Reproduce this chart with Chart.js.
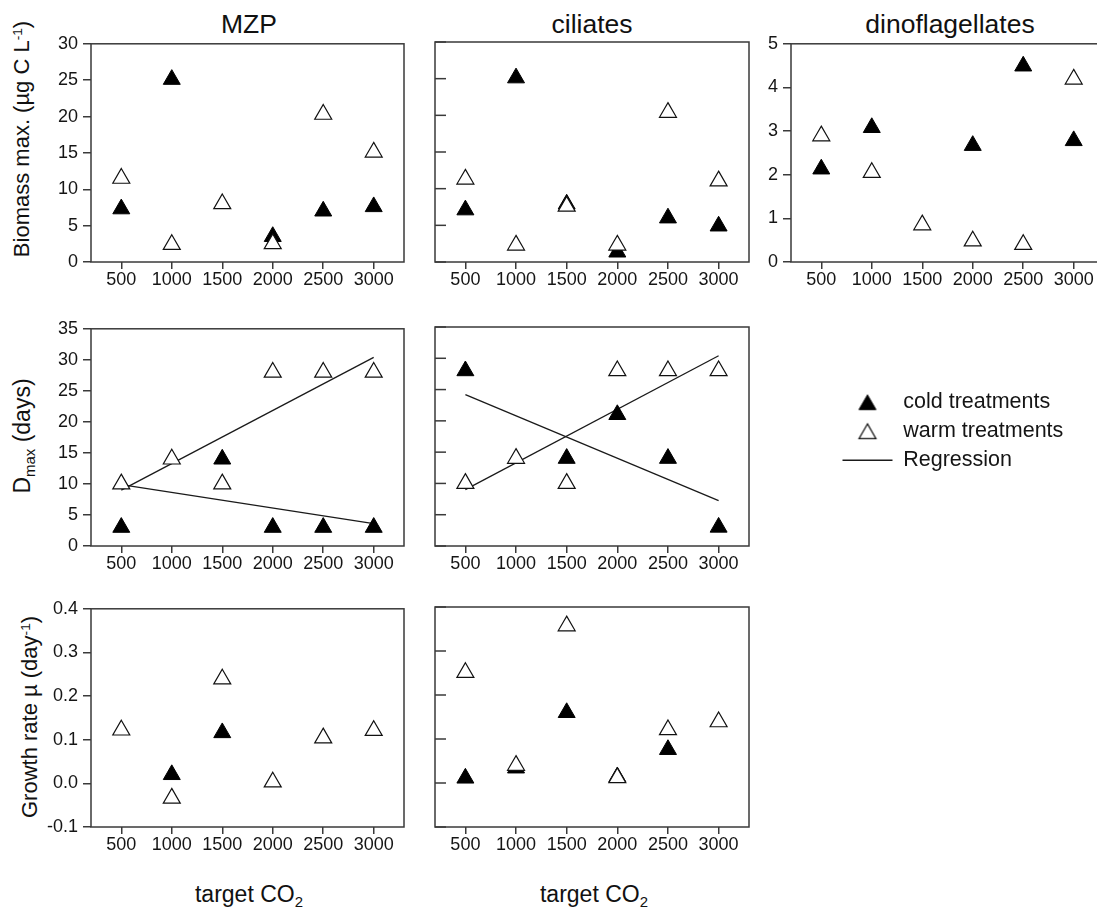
<!DOCTYPE html>
<html><head><meta charset="utf-8">
<script src="https://cdn.jsdelivr.net/npm/chart.js@4.4.1/dist/chart.umd.min.js"></script>
<style>
html,body{margin:0;padding:0;width:1097px;height:908px;overflow:hidden;background:#fff;font-family:"Liberation Sans",Arial,sans-serif;color:#111;}
canvas{position:absolute;}
.t{position:absolute;white-space:nowrap;line-height:1;}
.col{font-size:26.5px;transform:translate(-50%,-50%);}
.ylab{font-size:22px;transform:translate(-50%,-50%) rotate(-90deg);}
.xlab{font-size:23px;transform:translate(-50%,-50%);}
.sup{font-size:0.62em;position:relative;top:-0.55em;}
.sub{font-size:0.65em;position:relative;top:0.35em;}
</style></head><body>
<div class="t col" style="left:249px;top:24px">MZP</div>
<div class="t col" style="left:592px;top:24px">ciliates</div>
<div class="t col" style="left:950px;top:24px">dinoflagellates</div>
<div class="t ylab" style="left:22px;top:139px">Biomass max. (µg C L<span class="sup">-1</span>)</div>
<div class="t ylab" style="left:22px;top:436px;font-size:23px">D<span class="sub">max</span> (days)</div>
<div class="t ylab" style="left:30px;top:717px">Growth rate µ (day<span class="sup">-1</span>)</div>
<div class="t xlab" style="left:249px;top:894px">target CO<span class="sub">2</span></div>
<div class="t xlab" style="left:594px;top:894px">target CO<span class="sub">2</span></div>
<script>
// ---------- data ----------
const co2 = [500, 1000, 1500, 2000, 2500, 3000];
const xTicks = [500, 1000, 1500, 2000, 2500, 3000];
const biomassTicks = [0, 5, 10, 15, 20, 25, 30];
const dinoTicks = [0, 1, 2, 3, 4, 5];
const dmaxTicks = [0, 5, 10, 15, 20, 25, 30, 35];
const growthTicks = [-0.1, 0.0, 0.1, 0.2, 0.3, 0.4];

// Biomass max. (µg C L-1)
const mzpBiomassCold = [7.3, 25.1, null, 3.5, 7.0, 7.6];
const mzpBiomassWarm = [11.5, 2.4, 8.0, 2.5, 20.3, 15.1];
const ciliatesBiomassCold = [7.1, 25.1, 7.9, 1.35, 6.0, 4.9];
const ciliatesBiomassWarm = [11.3, 2.3, 7.6, 2.3, 20.4, 11.05];
const dinoBiomassCold = [2.13, 3.08, null, 2.67, 4.49, 2.78];
const dinoBiomassWarm = [2.89, 2.05, 0.85, 0.48, 0.40, 4.19];

// Dmax (days)
const mzpDmaxCold = [3, null, 14, 3, 3, 3];
const mzpDmaxWarm = [10, 14, 10, 28, 28, 28];
const ciliatesDmaxCold = [28, null, 14, 21, 14, 3];
const ciliatesDmaxWarm = [10, 14, 10, 28, 28, 28];

// Regression lines (Dmax)
const regressionX = [500, 3000];
const mzpDmaxRegWarm = [9.0, 30.4];
const mzpDmaxRegCold = [9.9, 3.6];
const ciliatesDmaxRegWarm = [9.0, 30.4];
const ciliatesDmaxRegCold = [24.2, 7.25];

// Growth rate µ (day-1)
const mzpGrowthCold = [null, 0.020, 0.116, null, null, null];
const mzpGrowthWarm = [0.122, -0.034, 0.239, 0.003, 0.104, 0.121];
const ciliatesGrowthCold = [0.011, 0.034, 0.160, 0.014, 0.076, null];
const ciliatesGrowthWarm = [0.251, 0.040, 0.357, 0.012, 0.121, 0.139];

const legendLabels = ['cold treatments', 'warm treatments', 'Regression'];

// ---------- style ----------
const FONT = '"Liberation Sans", Arial, sans-serif';
const FRAME = '#3a3a3a';
const TXT = '#151515';
const R = 9.8;
const TICK_FONT = 18;

function pts(xs, ys) {
  return xs.map((x, i) => ({x: x, y: ys[i]})).filter(p => p.y !== null && p.y !== undefined);
}
function coldDs(ys) {
  return {label: 'cold', data: pts(co2, ys), pointStyle: 'triangle', radius: R, hoverRadius: R,
    backgroundColor: '#000', borderColor: '#000', borderWidth: 1, order: 2};
}
function warmDs(ys) {
  return {label: 'warm', data: pts(co2, ys), pointStyle: 'triangle', radius: R, hoverRadius: R,
    backgroundColor: '#fff', borderColor: '#111', borderWidth: 1.2, order: 1};
}
function regDs(ys) {
  return {type: 'line', label: 'reg', data: pts(regressionX, ys), showLine: true, fill: false,
    borderColor: '#1a1a1a', borderWidth: 1.3, pointRadius: 0, hoverRadius: 0, order: 3};
}

const framePlugin = {
  id: 'frame',
  beforeDatasetsDraw(chart, args, opts) {
    const {ctx, chartArea: a} = chart;
    ctx.save();
    ctx.strokeStyle = FRAME;
    ctx.lineWidth = 1.5;
    ctx.strokeRect(a.left, a.top, a.right - a.left, a.bottom - a.top);
    if (opts && opts.innerTicks) {
      const ys = chart.scales.y;
      ys.ticks.forEach(t => {
        const py = ys.getPixelForValue(t.value);
        ctx.beginPath();
        ctx.moveTo(a.left, py);
        ctx.lineTo(a.left + 11, py);
        ctx.stroke();
      });
    }
    ctx.restore();
  }
};

const cols = [{l: 91, w: 313, labels: true}, {l: 435, w: 314, labels: false}, {l: 791, w: 313, labels: true}];
const rows = [{t: 42, h: 220}, {t: 327, h: 219}, {t: 607, h: 220}];

function panel(ci, ri, yMin, yMax, yTickArr, datasets, fmt) {
  const c = cols[ci], r = rows[ri];
  const yw = c.labels ? 60 : 20, pt = 14, pr = 14, xh = 40;
  const cv = document.createElement('canvas');
  const W = yw + c.w + pr, H = pt + r.h + xh;
  cv.width = W; cv.height = H;
  cv.style.left = (c.l - yw) + 'px';
  cv.style.top = (r.t - pt) + 'px';
  cv.style.width = W + 'px'; cv.style.height = H + 'px';
  document.body.appendChild(cv);
  new Chart(cv, {
    type: 'scatter',
    data: {datasets: datasets},
    options: {
      responsive: false, animation: false, events: [],
      layout: {padding: {left: 0, top: pt, right: pr, bottom: 0}},
      clip: false,
      scales: {
        x: {
          type: 'linear', min: 200, max: 3300,
          afterBuildTicks: s => { s.ticks = xTicks.map(v => ({value: v})); },
          afterFit: s => { s.height = xh; },
          border: {display: false},
          grid: {display: true, drawOnChartArea: false, drawTicks: true, tickLength: 7, color: FRAME, lineWidth: 1.5},
          ticks: {color: TXT, font: {size: TICK_FONT, family: FONT}, padding: 0, maxRotation: 0, callback: v => String(v)}
        },
        y: {
          type: 'linear', min: yMin, max: yMax,
          afterBuildTicks: s => { s.ticks = yTickArr.map(v => ({value: v})); },
          afterFit: s => { s.width = yw; },
          border: {display: false},
          grid: {display: c.labels, drawOnChartArea: false, drawTicks: true, tickLength: 8, color: FRAME, lineWidth: 1.5},
          ticks: {display: c.labels, color: TXT, font: {size: TICK_FONT, family: FONT}, padding: 5,
            callback: v => fmt ? fmt(v) : String(v)}
        }
      },
      plugins: {legend: {display: false}, tooltip: {enabled: false}, frame: {innerTicks: !c.labels}}
    },
    plugins: [framePlugin]
  });
}

const g1 = v => v.toFixed(1);

panel(0, 0, 0, 30, biomassTicks, [warmDs(mzpBiomassWarm), coldDs(mzpBiomassCold)]);
panel(1, 0, 0, 30, biomassTicks, [warmDs(ciliatesBiomassWarm), coldDs(ciliatesBiomassCold)]);
panel(2, 0, 0, 5, dinoTicks, [warmDs(dinoBiomassWarm), coldDs(dinoBiomassCold)]);
panel(0, 1, 0, 35, dmaxTicks, [warmDs(mzpDmaxWarm), coldDs(mzpDmaxCold), regDs(mzpDmaxRegWarm), regDs(mzpDmaxRegCold)]);
panel(1, 1, 0, 35, dmaxTicks, [warmDs(ciliatesDmaxWarm), coldDs(ciliatesDmaxCold), regDs(ciliatesDmaxRegWarm), regDs(ciliatesDmaxRegCold)]);
panel(0, 2, -0.1, 0.4, growthTicks, [warmDs(mzpGrowthWarm), coldDs(mzpGrowthCold)], g1);
panel(1, 2, -0.1, 0.4, growthTicks, [warmDs(ciliatesGrowthWarm), coldDs(ciliatesGrowthCold)], g1);

// ---------- legend ----------
function triImg(filled) {
  const c = document.createElement('canvas');
  c.width = 22; c.height = 20;
  const x = c.getContext('2d');
  const cx = 11, cy = 10 + R / 4;
  const s = Math.sin(2 * Math.PI / 3) * R;
  x.beginPath();
  x.moveTo(cx, cy - R);
  x.lineTo(cx + s, cy + R / 2);
  x.lineTo(cx - s, cy + R / 2);
  x.closePath();
  x.fillStyle = filled ? '#000' : '#fff';
  x.fill();
  x.lineWidth = filled ? 1 : 1.2;
  x.strokeStyle = filled ? '#000' : '#111';
  x.stroke();
  return c;
}
const lc = document.createElement('canvas');
lc.width = 420; lc.height = 130;
lc.style.left = '835px'; lc.style.top = '384px';
lc.style.width = '420px'; lc.style.height = '130px';
document.body.appendChild(lc);
const legendItems = [
  {text: legendLabels[0], pointStyle: triImg(true), fillStyle: '#000', strokeStyle: '#000', lineWidth: 1, fontColor: TXT, datasetIndex: 0},
  {text: legendLabels[1], pointStyle: triImg(false), fillStyle: '#fff', strokeStyle: '#111', lineWidth: 1.2, fontColor: TXT, datasetIndex: 1},
  {text: legendLabels[2], pointStyle: 'line', fillStyle: '#1a1a1a', strokeStyle: '#1a1a1a', lineWidth: 1.3, fontColor: TXT, datasetIndex: 2}
];
new Chart(lc, {
  type: 'scatter',
  data: {datasets: legendLabels.map(l => ({label: l, data: []}))},
  options: {
    responsive: false, animation: false, events: [],
    layout: {padding: 0},
    scales: {x: {display: false}, y: {display: false}},
    plugins: {
      tooltip: {enabled: false},
      legend: {
        display: true, position: 'left', align: 'start', maxWidth: 320,
        labels: {usePointStyle: true, pointStyleWidth: 50, boxHeight: 21.5, padding: 7.5, color: TXT,
          font: {size: 21.5, family: FONT}, generateLabels: () => legendItems}
      }
    }
  }
});
</script>
</body></html>
